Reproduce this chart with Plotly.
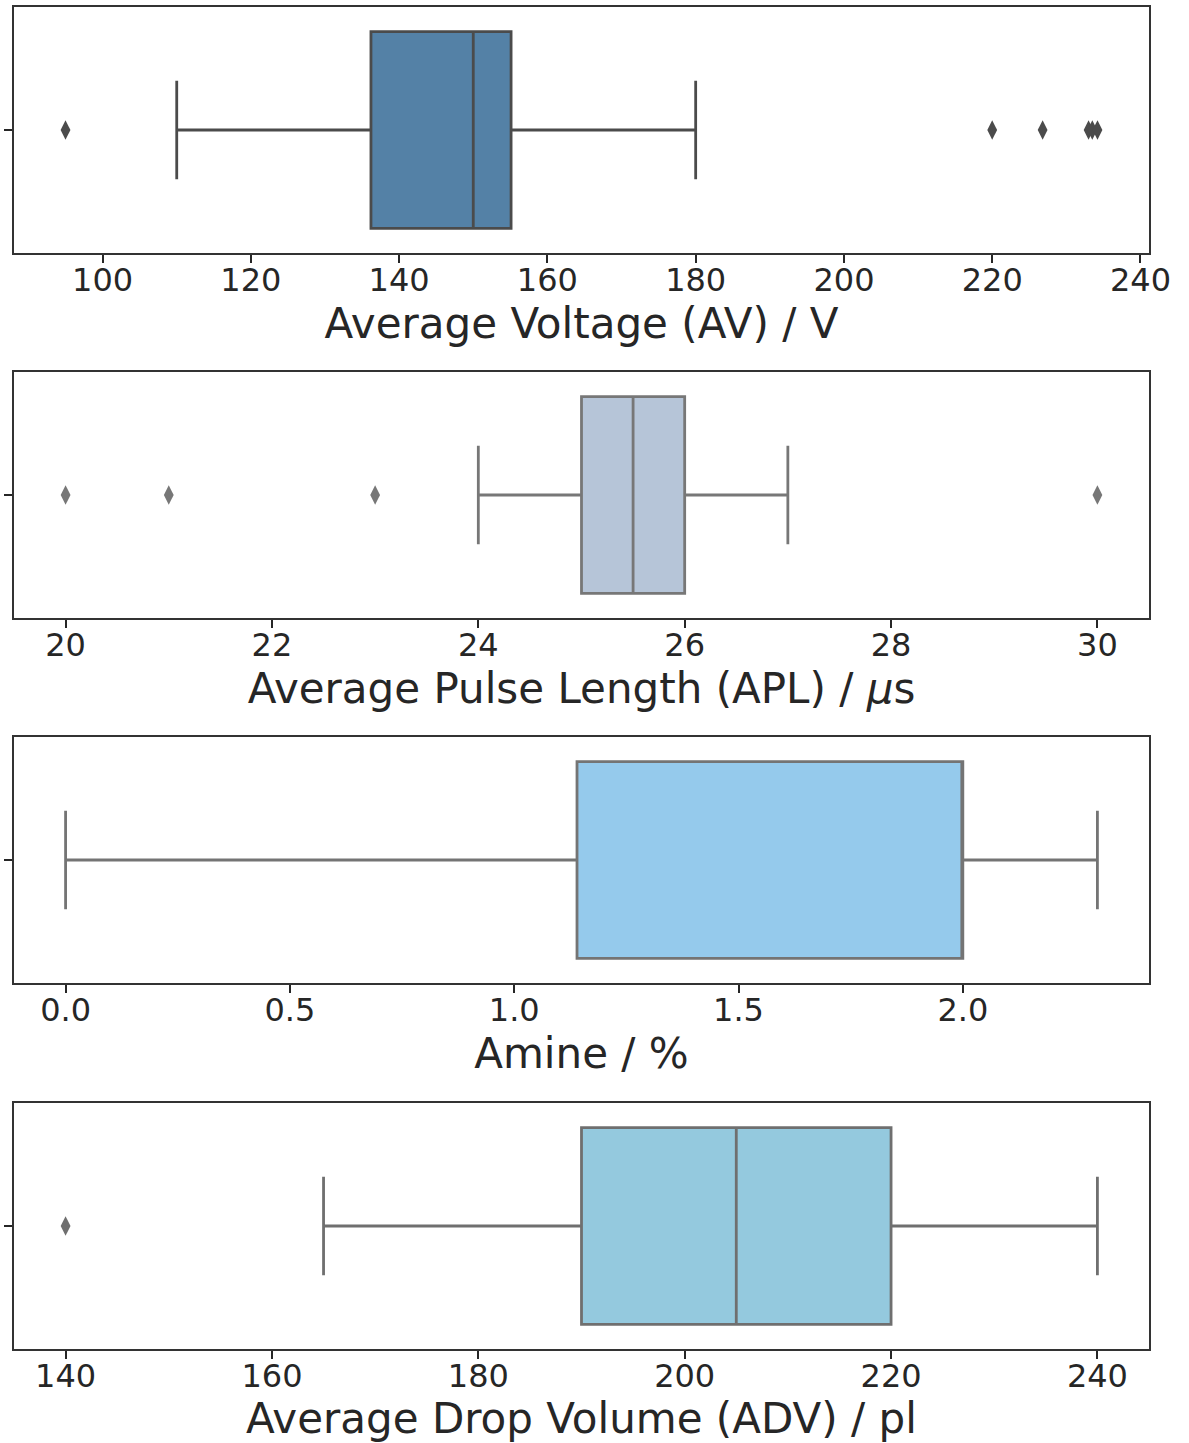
import plotly.graph_objects as go

W, H = 1189, 1443

titles = ["Average Voltage (AV) / V", "Average Pulse Length (APL) / <i>μ</i>s",
          "Amine / %", "Average Drop Volume (ADV) / pl"]
q1 = [136.2, 25.0, 1.14, 190.0]
median = [150.0, 25.5, 2.0, 205.0]
q3 = [155.1, 26.0, 2.0, 220.0]
lowerfence = [110.0, 24.0, 0.0, 165.0]
upperfence = [180.0, 27.0, 2.3, 240.0]
outliers = [[95.0, 220.0, 226.8, 233.0, 233.5, 234.2],
            [20.0, 21.0, 23.0, 30.0],
            [],
            [140.0]]
xranges = [[88.05, 241.15], [19.5, 30.5], [-0.115, 2.415], [135.0, 245.0]]
tickvals = [[100, 120, 140, 160, 180, 200, 220, 240],
            [20, 22, 24, 26, 28, 30],
            [0.0, 0.5, 1.0, 1.5, 2.0],
            [140, 160, 180, 200, 220, 240]]
ticktext = [[str(v) for v in tickvals[0]],
            [str(v) for v in tickvals[1]],
            ["0.0", "0.5", "1.0", "1.5", "2.0"],
            [str(v) for v in tickvals[3]]]
fills = ["#5481a6", "#b6c5d8", "#95caec", "#94c9de"]
lines = ["#4b4b4b", "#777777", "#747474", "#6f6f6f"]

# panel pixel extents (top, bottom)
tops = [7, 372, 737, 1103]
bottoms = [253, 618, 983, 1349]
x0, x1 = 14, 1149

fig = go.Figure()
layout = dict(width=W, height=H, autosize=False,
              margin=dict(l=0, r=0, t=0, b=0, autoexpand=False),
              paper_bgcolor="white", plot_bgcolor="white", showlegend=False,
              font=dict(family="DejaVu Sans", color="#262626"))

for i in range(4):
    n = "" if i == 0 else str(i + 1)
    xa, ya = "x" + n, "y" + n
    fig.add_trace(go.Box(
        y=[0], q1=[q1[i]], median=[median[i]], q3=[q3[i]],
        lowerfence=[lowerfence[i]], upperfence=[upperfence[i]],
        orientation="h", width=0.8, whiskerwidth=0.5,
        fillcolor=fills[i], line=dict(color=lines[i], width=2.8),
        boxpoints=False, xaxis=xa, yaxis=ya, hoverinfo="skip"))
    if outliers[i]:
        fig.add_trace(go.Scatter(
            x=outliers[i], y=[0] * len(outliers[i]), mode="markers",
            marker=dict(symbol="diamond-tall", size=14, color=lines[i],
                        line=dict(width=0)),
            xaxis=xa, yaxis=ya, hoverinfo="skip"))
    layout["xaxis" + n] = dict(
        domain=[x0 / W, x1 / W], range=xranges[i], anchor=ya,
        tickvals=tickvals[i], ticktext=ticktext[i],
        ticks="outside", ticklen=8, tickwidth=1.6, tickcolor="#262626",
        ticklabelstandoff=-10,
        showline=True, mirror=True, linecolor="#333333", linewidth=1.8,
        showgrid=False, zeroline=False, automargin=False,
        tickfont=dict(size=32, family="DejaVu Sans", color="#262626"),
        title=dict(text=titles[i], standoff=0,
                   font=dict(size=42, family="DejaVu Sans", color="#262626")))
    layout["yaxis" + n] = dict(
        domain=[1 - bottoms[i] / H, 1 - tops[i] / H], range=[0.5, -0.5],
        anchor=xa, tickvals=[0], ticktext=[""], automargin=False,
        ticks="outside", ticklen=8, tickwidth=1.6, tickcolor="#262626",
        showline=True, mirror=True, linecolor="#333333", linewidth=1.8,
        showgrid=False, zeroline=False)

fig.update_layout(**layout)
fig.write_html(
    "out.html",
    config={"responsive": False},
    post_script="document.documentElement.style.overflow='hidden';"
                "document.body.style.overflow='hidden';"
                "document.body.style.margin='0';",
)
